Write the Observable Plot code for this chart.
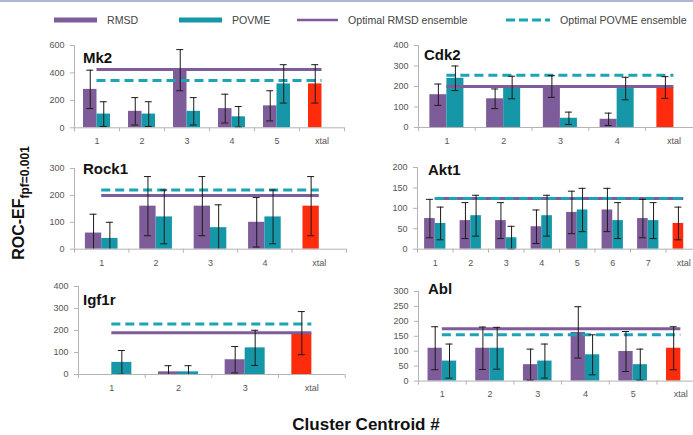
<!DOCTYPE html>
<html>
<head>
<meta charset="utf-8">
<script src="https://cdn.jsdelivr.net/npm/d3@7"></script>
<script src="https://cdn.jsdelivr.net/npm/@observablehq/plot@0.6"></script>
<style>
  body { margin: 0; background: #fff; }
  #root { position: relative; width: 693px; height: 435px; overflow: hidden; font-family: "Liberation Sans", Arial, sans-serif; background: #fff; }
  .topline { position: absolute; left: 0; top: 0; width: 693px; height: 2px; background: #a9b9d6; }
  .panel { position: absolute; }
  .title { position: absolute; font-weight: bold; font-size: 15px; line-height: 15px; color: #111; white-space: nowrap; }
  .leg { position: absolute; top: 13px; height: 14px; display: flex; align-items: center; font-size: 10.6px; color: #444; white-space: nowrap; }
  .leg svg { margin-right: 10px; }
  .ytitle { position: absolute; left: 21px; top: 203px; transform: translate(-50%, -50%) rotate(-90deg); font-weight: bold; font-size: 16px; color: #111; white-space: nowrap; }
  .ytitle sub { font-size: 12px; }
  .xtitle { position: absolute; left: 366px; top: 416px; transform: translateX(-50%); font-weight: bold; font-size: 17px; line-height: 17px; color: #111; white-space: nowrap; }
</style>
</head>
<body>
<div id="root">
  <div class="topline"></div>
</div>
<script>
// ---------- DATA ----------
// Mk2
const mk2Labels = ["1", "2", "3", "4", "5", "xtal"];
const mk2Rmsd = [280, 120, 420, 140, 160];
const mk2RmsdErr = [140, 100, 150, 105, 110];
const mk2Povme = [100, 100, 120, 80, 320];
const mk2PovmeErr = [90, 90, 100, 75, 140];
const mk2Xtal = 320, mk2XtalErr = 140;
const mk2OptRmsd = 425, mk2OptPovme = 345;
const mk2YTicks = [0, 200, 400, 600];

// Cdk2
const cdk2Labels = ["1", "2", "3", "4", "xtal"];
const cdk2Rmsd = [160, 140, 200, 40];
const cdk2RmsdErr = [52, 48, 53, 30];
const cdk2Povme = [240, 195, 45, 190];
const cdk2PovmeErr = [60, 55, 30, 55];
const cdk2Xtal = 195, cdk2XtalErr = 53;
const cdk2OptRmsd = 200, cdk2OptPovme = 255;
const cdk2YTicks = [0, 100, 200, 300, 400];

// Rock1
const rock1Labels = ["1", "2", "3", "4", "xtal"];
const rock1Rmsd = [60, 160, 160, 100];
const rock1RmsdErr = [70, 110, 110, 92];
const rock1Povme = [40, 120, 80, 120];
const rock1PovmeErr = [60, 100, 85, 100];
const rock1Xtal = 160, rock1XtalErr = 110;
const rock1OptRmsd = 200, rock1OptPovme = 220;
const rock1YTicks = [0, 100, 200, 300];

// Akt1
const akt1Labels = ["1", "2", "3", "4", "5", "6", "7", "xtal"];
const akt1Rmsd = [75, 70, 70, 55, 90, 96, 75];
const akt1RmsdErr = [47, 44, 44, 41, 52, 53, 47];
const akt1Povme = [63, 82, 28, 82, 96, 70, 70];
const akt1PovmeErr = [40, 50, 28, 50, 53, 44, 44];
const akt1Xtal = 63, akt1XtalErr = 40;
const akt1OptRmsd = 124, akt1OptPovme = 124;
const akt1YTicks = [0, 50, 100, 150, 200];

// Igf1r
const igf1rLabels = ["1", "2", "3", "xtal"];
const igf1rRmsd = [0, 12, 67];
const igf1rRmsdErr = [0, 28, 60];
const igf1rPovme = [55, 12, 121];
const igf1rPovmeErr = [54, 28, 80];
const igf1rXtal = 188, igf1rXtalErr = 98;
const igf1rOptRmsd = 190, igf1rOptPovme = 230;
const igf1rYTicks = [0, 100, 200, 300, 400];

// Abl
const ablLabels = ["1", "2", "3", "4", "5", "xtal"];
const ablRmsd = [110, 110, 55, 163, 99];
const ablRmsdErr = [72, 71, 52, 86, 67];
const ablPovme = [67, 110, 67, 88, 55];
const ablPovmeErr = [57, 70, 57, 67, 52];
const ablXtal = 110, ablXtalErr = 72;
const ablOptRmsd = 175, ablOptPovme = 155;
const ablYTicks = [0, 50, 100, 150, 200, 250, 300];

// ---------- STYLE ----------
const C_RMSD = "#7e5c9a";
const C_POVME = "#1597a8";
const C_POVME_LINE = "#1ba3b6";
const C_XTAL = "#ff2b0d";
const C_AXIS = "#b4b4b4";
const C_ERR = "#1a1a1a";

const root = document.getElementById("root");

function panel(o) {
  const ML = 80, MR = 12, MT = 20, MB = 26;
  const n = o.labels.length;
  const W = 0.3;
  const rows = [];
  o.rmsd.forEach((v, i) => rows.push({ i: i + 1, s: "RMSD", v, e: o.rmsdErr[i] }));
  o.povme.forEach((v, i) => rows.push({ i: i + 1, s: "POVME", v, e: o.povmeErr[i] }));
  rows.push({ i: n, s: "xtal", v: o.xtal, e: o.xtalErr });
  rows.forEach(d => {
    d.x1 = d.s === "POVME" ? d.i : d.i - W;
    d.x2 = d.s === "POVME" ? d.i + W : d.i;
    d.xm = (d.x1 + d.x2) / 2;
    d.lo = Math.max(0, d.v - d.e);
    d.hi = d.v + d.e;
  });
  const pxPerUnit = (o.px1 - o.px0) / n;
  const cap = 3.5 / pxPerUnit;
  const errRows = rows.filter(d => d.e > 0);
  const loCaps = errRows.filter(d => d.v - d.e >= 0);
  const width = (o.px1 - o.px0) + ML + MR;
  const height = (o.pyZero - o.pyTop) + MT + MB;
  const bounds = d3.range(0, n + 1).map(k => k + 0.5);
  const svg = Plot.plot({
    width, height,
    marginLeft: ML, marginRight: MR, marginTop: MT, marginBottom: MB,
    x: { domain: [0.5, n + 0.5], axis: null },
    y: { domain: [0, o.yTicks[o.yTicks.length - 1]], axis: null },
    style: { fontFamily: "'Liberation Sans', Arial, sans-serif", fontSize: "9px", color: "#555", background: "transparent", overflow: "visible" },
    marks: [
      Plot.rectY(rows.filter(d => d.s === "RMSD" && d.v > 0), { x1: "x1", x2: "x2", y1: 0, y2: "v", fill: C_RMSD }),
      Plot.rectY(rows.filter(d => d.s === "POVME" && d.v > 0), { x1: "x1", x2: "x2", y1: 0, y2: "v", fill: C_POVME }),
      Plot.rectY(rows.filter(d => d.s === "xtal"), { x1: "x1", x2: "x2", y1: 0, y2: "v", fill: C_XTAL }),
      Plot.ruleY([o.optRmsd], { x1: 1, x2: n, stroke: C_RMSD, strokeWidth: 3 }),
      Plot.ruleY([o.optPovme], { x1: 1, x2: n, stroke: C_POVME_LINE, strokeWidth: 3, strokeDasharray: "9,5" }),
      Plot.ruleX(errRows, { x: "xm", y1: "lo", y2: "hi", stroke: C_ERR, strokeWidth: 1 }),
      Plot.ruleY(errRows, { y: "hi", x1: d => d.xm - cap, x2: d => d.xm + cap, stroke: C_ERR, strokeWidth: 1 }),
      Plot.ruleY(loCaps, { y: "lo", x1: d => d.xm - cap, x2: d => d.xm + cap, stroke: C_ERR, strokeWidth: 1 }),
      Plot.ruleX([0.5], { stroke: C_AXIS }),
      Plot.ruleY([0], { stroke: C_AXIS }),
      Plot.axisY({ ticks: o.yTicks, tickSize: 4, tickPadding: 6, stroke: C_AXIS, fill: "#555", tickFormat: d => String(d) }),
      Plot.axisX({ ticks: bounds, tickSize: 4, stroke: C_AXIS, tickFormat: () => "" }),
      Plot.axisX({ ticks: d3.range(1, n + 1), tickSize: 0, tickPadding: 10, fill: "#555", tickFormat: i => o.labels[i - 1] })
    ]
  });
  svg.classList.add("panel");
  svg.style.left = (o.px0 - ML) + "px";
  svg.style.top = (o.pyTop - MT) + "px";
  root.appendChild(svg);
  const t = document.createElement("div");
  t.className = "title";
  t.textContent = o.title;
  t.style.left = o.tx + "px";
  t.style.top = o.ty + "px";
  root.appendChild(t);
}

panel({ title: "Mk2", labels: mk2Labels, rmsd: mk2Rmsd, rmsdErr: mk2RmsdErr, povme: mk2Povme, povmeErr: mk2PovmeErr,
  xtal: mk2Xtal, xtalErr: mk2XtalErr, optRmsd: mk2OptRmsd, optPovme: mk2OptPovme, yTicks: mk2YTicks,
  px0: 74.2, px1: 344.2, pyTop: 44.7, pyZero: 127, tx: 83, ty: 49.5 });
panel({ title: "Cdk2", labels: cdk2Labels, rmsd: cdk2Rmsd, rmsdErr: cdk2RmsdErr, povme: cdk2Povme, povmeErr: cdk2PovmeErr,
  xtal: cdk2Xtal, xtalErr: cdk2XtalErr, optRmsd: cdk2OptRmsd, optPovme: cdk2OptPovme, yTicks: cdk2YTicks,
  px0: 417.6, px1: 701.4, pyTop: 44.7, pyZero: 126.7, tx: 424, ty: 46.5 });
panel({ title: "Rock1", labels: rock1Labels, rmsd: rock1Rmsd, rmsdErr: rock1RmsdErr, povme: rock1Povme, povmeErr: rock1PovmeErr,
  xtal: rock1Xtal, xtalErr: rock1XtalErr, optRmsd: rock1OptRmsd, optPovme: rock1OptPovme, yTicks: rock1YTicks,
  px0: 74.4, px1: 346.4, pyTop: 168.3, pyZero: 249, tx: 83, ty: 160.5 });
panel({ title: "Akt1", labels: akt1Labels, rmsd: akt1Rmsd, rmsdErr: akt1RmsdErr, povme: akt1Povme, povmeErr: akt1PovmeErr,
  xtal: akt1Xtal, xtalErr: akt1XtalErr, optRmsd: akt1OptRmsd, optPovme: akt1OptPovme, yTicks: akt1YTicks,
  px0: 417.3, px1: 701.3, pyTop: 167.3, pyZero: 249, tx: 428, ty: 161.5 });
panel({ title: "Igf1r", labels: igf1rLabels, rmsd: igf1rRmsd, rmsdErr: igf1rRmsdErr, povme: igf1rPovme, povmeErr: igf1rPovmeErr,
  xtal: igf1rXtal, xtalErr: igf1rXtalErr, optRmsd: igf1rOptRmsd, optPovme: igf1rOptPovme, yTicks: igf1rYTicks,
  px0: 77.7, px1: 344.4, pyTop: 286, pyZero: 374, tx: 83, ty: 291.5 });
panel({ title: "Abl", labels: ablLabels, rmsd: ablRmsd, rmsdErr: ablRmsdErr, povme: ablPovme, povmeErr: ablPovmeErr,
  xtal: ablXtal, xtalErr: ablXtalErr, optRmsd: ablOptRmsd, optPovme: ablOptPovme, yTicks: ablYTicks,
  px0: 417.9, px1: 704.1, pyTop: 290.7, pyZero: 380.3, tx: 428, ty: 280.5 });

// ---------- LEGEND ----------
function legendItem(left, label, swatch) {
  const d = document.createElement("div");
  d.className = "leg";
  d.style.left = left + "px";
  d.innerHTML = swatch + "<span>" + label + "</span>";
  root.appendChild(d);
}
legendItem(54, "RMSD", `<svg width="43" height="8"><line x1="0" y1="4" x2="43" y2="4" stroke="${C_RMSD}" stroke-width="5"/></svg>`);
legendItem(179, "POVME", `<svg width="43" height="8"><line x1="0" y1="4" x2="43" y2="4" stroke="${C_POVME}" stroke-width="5"/></svg>`);
legendItem(297, "Optimal RMSD ensemble", `<svg width="41" height="8"><line x1="0" y1="4" x2="41" y2="4" stroke="${C_RMSD}" stroke-width="2.5"/></svg>`);
legendItem(506, "Optimal POVME ensemble", `<svg width="44" height="8"><line x1="0" y1="4" x2="44" y2="4" stroke="${C_POVME_LINE}" stroke-width="3" stroke-dasharray="9,4"/></svg>`);

// ---------- AXIS TITLES ----------
const yt = document.createElement("div");
yt.className = "ytitle";
yt.innerHTML = "ROC-EF<sub>fpf=0.001</sub>";
root.appendChild(yt);
const xt = document.createElement("div");
xt.className = "xtitle";
xt.textContent = "Cluster Centroid #";
root.appendChild(xt);
</script>
</body>
</html>
